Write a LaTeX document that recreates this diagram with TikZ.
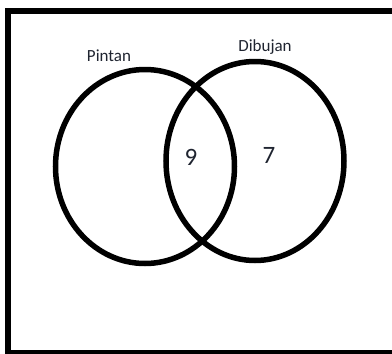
\documentclass[tikz,border=0pt]{standalone}
\usepackage{fontspec}
\setmainfont{Carlito}
\usepackage{xcolor}
\definecolor{Ink}{HTML}{000000}
\definecolor{Label}{HTML}{1F2430}

\begin{document}
\begin{tikzpicture}[x=1pt,y=-1pt,every node/.style={font=\fontsize{17}{20}\selectfont,text=Label,inner sep=0pt},frame/.style={draw=Ink,line width=6pt},ring/.style={draw=Ink,line width=5.5pt},count/.style={font=\fontsize{25}{30}\selectfont}]
\useasboundingbox (0,0) rectangle (392,354);
\clip (0,0) rectangle (392,354);
\fill[white] (0,0) rectangle (392,354);
\draw[frame] (8,10.7) rectangle (398,353);
\draw[ring] (145,166.5) ellipse [x radius=89.5,y radius=97];
\draw[ring] (255,161) ellipse [x radius=89,y radius=99.5];
\node (pintan) at (109,56) {Pintan};
\node (dibujan) at (265,47) {Dibujan};
\node[count] (both) at (191,157) {9};
\node[count] (onlyd) at (269,155) {7};
\end{tikzpicture}
\end{document}
